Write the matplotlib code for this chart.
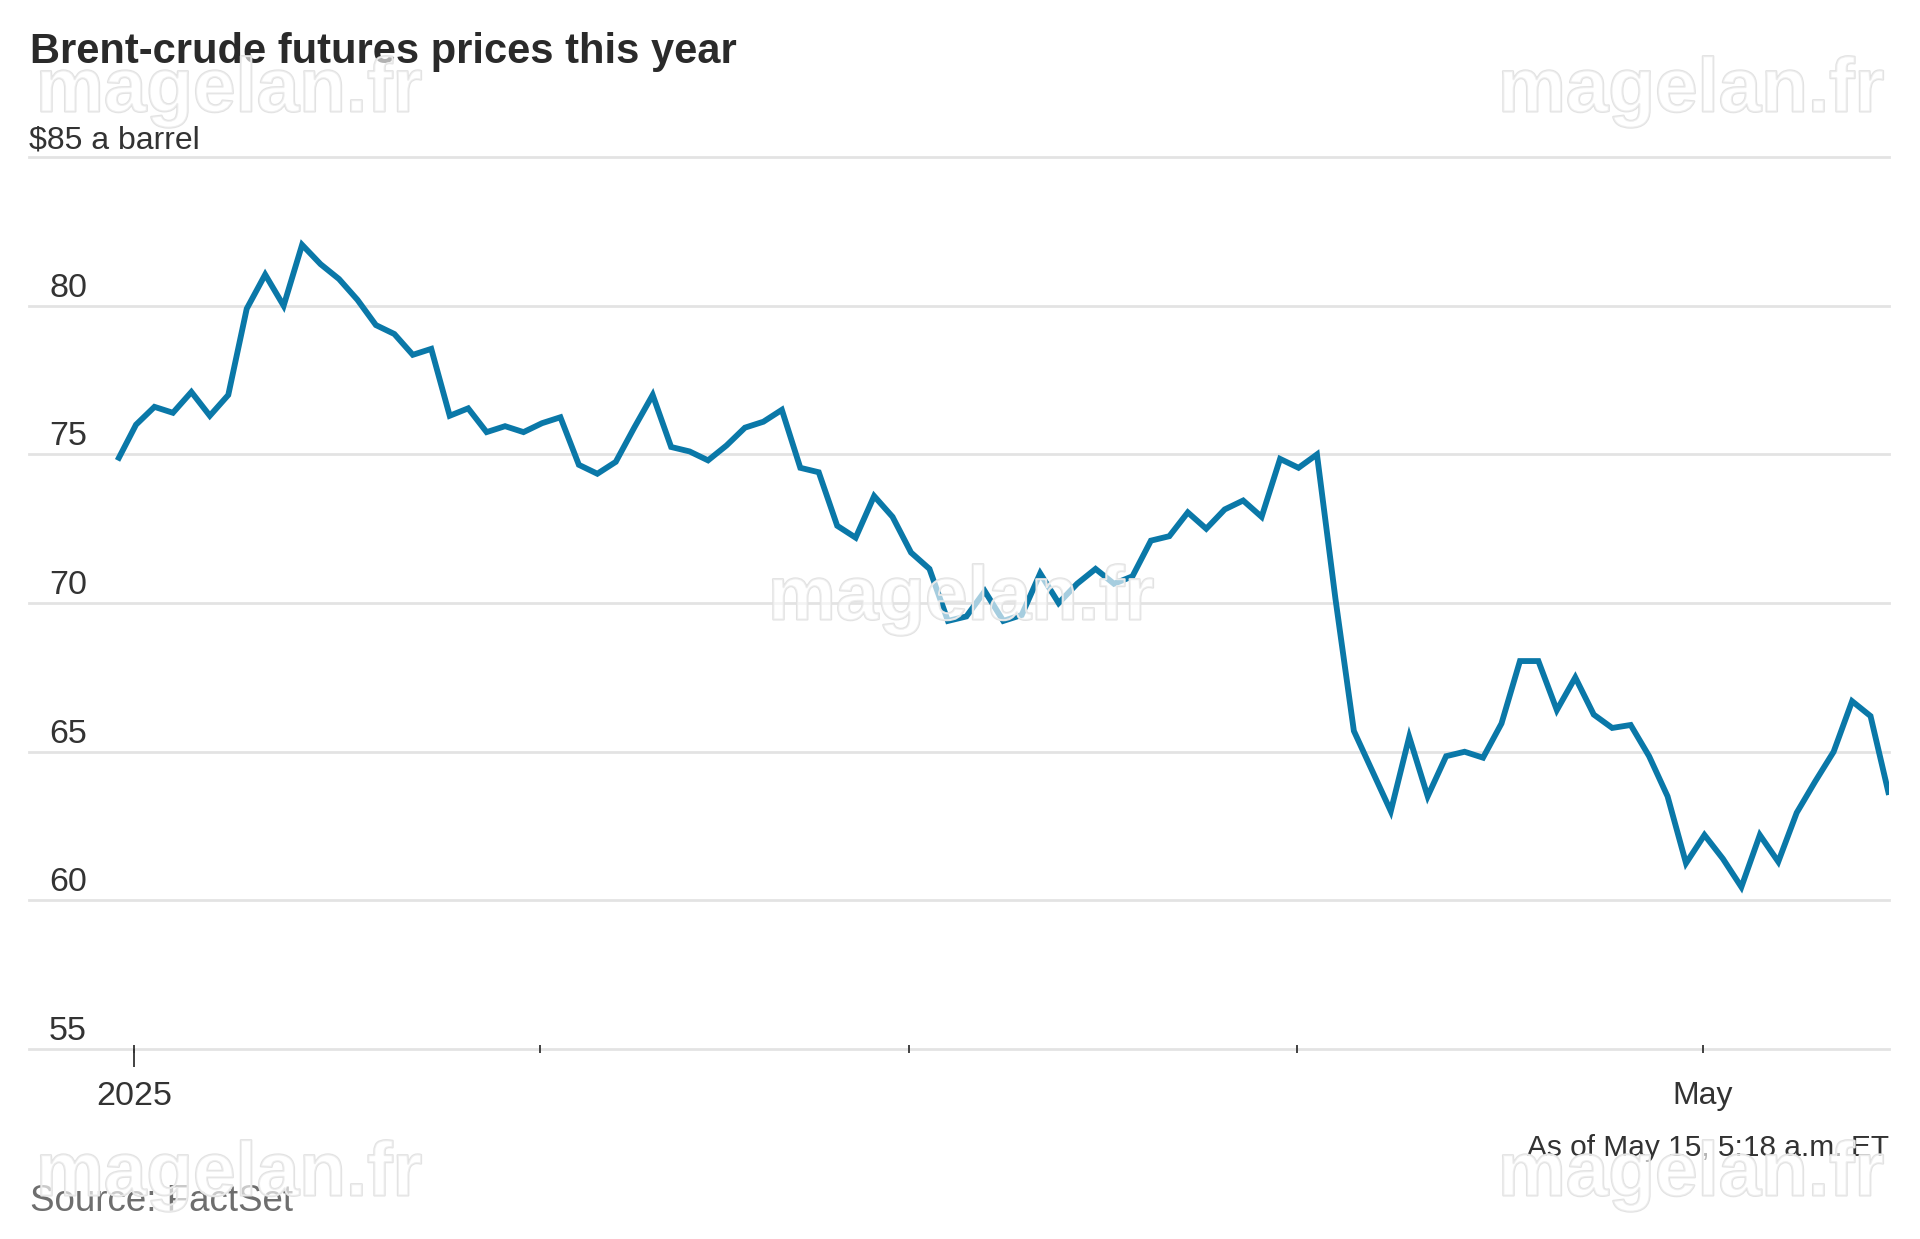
import matplotlib.pyplot as plt
import matplotlib.patheffects as pe
import matplotlib.transforms as mtransforms

# Brent crude daily settle, Dec 31 2024 .. May 15 2025 (one value per trading day)
prices = [
    74.8, 76.0, 76.6, 76.4, 77.1, 76.3, 77.0, 79.9, 81.05, 80.0,
    82.05, 81.4, 80.9, 80.2, 79.35, 79.05, 78.35, 78.55, 76.3, 76.55,
    75.75, 75.95, 75.75, 76.05, 76.25, 74.65, 74.35, 74.75, 75.9, 77.0,
    75.25, 75.1, 74.8, 75.3, 75.9, 76.1, 76.5, 74.55, 74.4, 72.6,
    72.2, 73.6, 72.9, 71.7, 71.15, 69.4, 69.55, 70.4, 69.4, 69.6,
    71.0, 70.0, 70.65, 71.15, 70.65, 70.9, 72.1, 72.25, 73.05, 72.5,
    73.15, 73.45, 72.9, 74.85, 74.55, 75.0, 70.15, 65.7, 64.35, 63.0,
    65.5, 63.5, 64.85, 65.0, 64.8, 65.95, 68.05, 68.05, 66.4, 67.5,
    66.25, 65.8, 65.9, 64.85, 63.5, 61.25, 62.2, 61.4, 60.45, 62.2,
    61.3, 62.95, 64.0, 65.0, 66.7, 66.2, 63.55,
]
month_start = [1, 23, 43, 64, 86]  # index of first trading day of Jan..May
month_labels = ["2025", "", "", "", "May"]
y_ticks = [55, 60, 65, 70, 75, 80]
top_label = "$85 a barrel"

FONT = "Liberation Sans"
DARK = "#333333"

fig = plt.figure(figsize=(19.2, 12.39), dpi=100)
ax = fig.add_axes([0.0151, 0.1533, 0.96875, 0.7199])

ax.plot(range(len(prices)), prices, color="#0a78a8", lw=4.2,
        solid_joinstyle="miter", solid_capstyle="butt", zorder=3)
ax.set_xlim(-4.8, 96.0)
ax.set_ylim(55, 85)

# horizontal gridlines (55 acts as the baseline)
for v in y_ticks + [85]:
    ax.axhline(v, color="#e3e3e3", lw=2, clip_on=False, zorder=1)

# y labels sit just above their gridline
shift = mtransforms.ScaledTranslation(0, 9 / 100, fig.dpi_scale_trans)
ytrans = ax.get_yaxis_transform() + shift
for v in y_ticks:
    ax.text(0.0108, v, str(v), transform=ytrans, ha="left", va="baseline",
            fontsize=24.5, family=FONT, color=DARK)
ax.text(0.0, 85, top_label, transform=ytrans, ha="left", va="baseline",
        fontsize=23, family=FONT, color=DARK)

ax.set_yticks([])
for s in ax.spines.values():
    s.set_visible(False)

# x ticks at month starts, the first one longer
ticks_x = [m - 0.1 for m in month_start]
ax.set_xticks(ticks_x, month_labels)
ax.set_xticks([ticks_x[0]], minor=True)
ax.xaxis.remove_overlapping_locs = False
ax.tick_params(axis="x", which="major", direction="inout", length=6, width=1.3,
               color=DARK, pad=20, labelsize=24.5, labelcolor=DARK)
ax.tick_params(axis="x", which="minor", direction="out", length=13, width=1.3,
               color=DARK)
for lbl in ax.get_xticklabels():
    lbl.set_family(FONT)
ax.get_xticklabels()[-1].set_fontsize(23)

# texts
fig.text(30 / 1920, 1 - 63 / 1239, "Brent-crude futures prices this year",
         fontsize=30, weight="bold", family=FONT, color="#2a2a2a",
         va="baseline")
fig.text(1889 / 1920, 1 - 1156 / 1239, "As of May 15, 5:18 a.m. ET",
         fontsize=21.5, family=FONT, color=DARK, ha="right", va="baseline")
fig.text(30 / 1920, 1 - 1211 / 1239, "Source: FactSet",
         fontsize=26.5, family=FONT, color="#6e6e6e", va="baseline")

# watermarks
for x, y in [(229, 92), (1691, 92), (961, 600), (229, 1176), (1691, 1176)]:
    fig.text(x / 1920, 1 - y / 1239, "magelan.fr", fontsize=55, weight="bold",
             family=FONT, color=(1, 1, 1, 0.4), ha="center",
             va="center", zorder=5,
             path_effects=[pe.withStroke(linewidth=1.5, foreground="#e2e2e2")])

fig.savefig("out.png", dpi=100)
plt.close(fig)
